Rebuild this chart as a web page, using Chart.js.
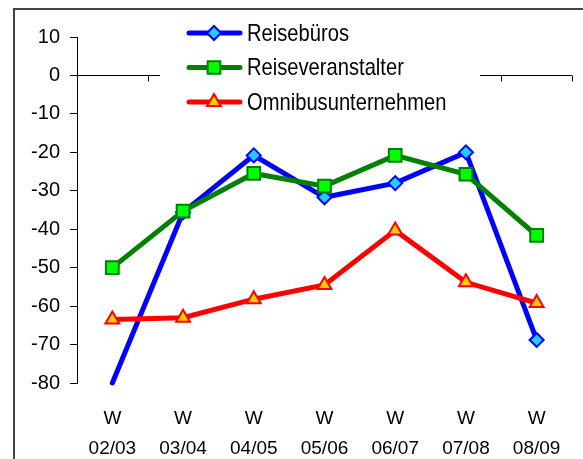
<!DOCTYPE html>
<html>
<head>
<meta charset="utf-8">
<script src="https://cdn.jsdelivr.net/npm/chart.js@4"></script>
<style>
  html, body { margin: 0; padding: 0; background: #fff; }
  #wrap { width: 583px; height: 459px; }
</style>
</head>
<body>
<div id="wrap"><canvas id="chart" width="583" height="459"></canvas></div>
<script>
const LABELS = [['W', '02/03'], ['W', '03/04'], ['W', '04/05'], ['W', '05/06'], ['W', '06/07'], ['W', '07/08'], ['W', '08/09']];
const REISEBUEROS = [-80, -35.6, -20.8, -31.7, -28, -20, -68.8];
const VERANSTALTER = [-50, -35.3, -25.5, -28.8, -20.8, -25.7, -41.6];
const OMNIBUS = [-63.5, -63, -58.2, -54.5, -40.3, -53.8, -59.2];
const Y_MIN = -80;
const Y_MAX = 10;

const TICK_FONT = "'Liberation Sans', Arial, sans-serif";
const LEGEND_FONT = "'Liberation Sans', Arial, sans-serif";

// frame around the whole picture (cut off at right/bottom like the original)
const framePlugin = {
    id: 'frame',
    beforeDraw(chart) {
        const ctx = chart.ctx;
        ctx.save();
        ctx.strokeStyle = '#444';
        ctx.lineWidth = 2;
        ctx.strokeRect(14, 9, 700, 700);
        ctx.restore();
    }
};

// horizontal axis line at zero with tick marks between categories
const zeroLinePlugin = {
    id: 'zeroLine',
    beforeDatasetsDraw(chart) {
        const ctx = chart.ctx;
        const x = chart.scales.x;
        const y = chart.scales.y;
        const area = chart.chartArea;
        const y0 = Math.round(y.getPixelForValue(0)) + 0.5;
        ctx.save();
        ctx.strokeStyle = '#000';
        ctx.lineWidth = 1;
        ctx.beginPath();
        ctx.moveTo(area.left, y0);
        ctx.lineTo(area.right, y0);
        for (let i = 0; i < LABELS.length; i++) {
            let bx = i < LABELS.length - 1
                ? (x.getPixelForValue(i) + x.getPixelForValue(i + 1)) / 2
                : area.right;
            bx = Math.round(bx) + 0.5;
            ctx.moveTo(bx, y0);
            ctx.lineTo(bx, y0 + 6);
        }
        ctx.stroke();
        ctx.restore();
    }
};

// legend box drawn over the plot like the original (narrow, tall text)
const legendPlugin = {
    id: 'boxLegend',
    afterDraw(chart) {
        const ctx = chart.ctx;
        ctx.save();
        ctx.fillStyle = '#fff';
        ctx.fillRect(160, 14, 320, 108);
        chart.data.datasets.forEach((ds, i) => {
            const cy = 33 + i * 34.5;
            ctx.strokeStyle = ds.borderColor;
            ctx.lineWidth = 5;
            ctx.lineCap = 'round';
            ctx.beginPath();
            ctx.moveTo(189, cy);
            ctx.lineTo(240, cy);
            ctx.stroke();
            ctx.fillStyle = ds.pointBackgroundColor;
            ctx.strokeStyle = ds.pointBorderColor;
            ctx.lineWidth = ds.pointBorderWidth;
            Chart.helpers.drawPoint(ctx, {
                pointStyle: ds.pointStyle,
                radius: ds.legendRadius,
                borderWidth: ds.pointBorderWidth,
                rotation: 0
            }, 214, cy);

            ctx.save();
            ctx.translate(247, cy + 1);
            ctx.scale(0.84, 1);
            ctx.fillStyle = '#000';
            ctx.font = '24px ' + LEGEND_FONT;
            ctx.textBaseline = 'middle';
            ctx.textAlign = 'left';
            ctx.fillText(ds.label, 0, 0);
            ctx.restore();
        });
        ctx.restore();
    }
};

// values sitting on the bottom of the axis show no marker (clipped like the original)
function radiusFor(r) {
    return c => (c.raw <= Y_MIN ? 0 : r);
}

const ctx = document.getElementById('chart').getContext('2d');
new Chart(ctx, {
    type: 'line',
    data: {
        labels: LABELS,
        datasets: [{
            label: 'Reisebüros',
            data: REISEBUEROS,
            order: 3,
            borderColor: '#0000ff',
            borderWidth: 5,
            borderCapStyle: 'round',
            pointStyle: 'rectRot',
            pointRadius: radiusFor(7),
            legendRadius: 7,
            pointBackgroundColor: '#22ccff',
            pointBorderColor: '#0000ff',
            pointBorderWidth: 2
        }, {
            label: 'Reiseveranstalter',
            data: VERANSTALTER,
            order: 2,
            borderColor: '#008000',
            borderWidth: 5,
            pointStyle: 'rect',
            pointRadius: radiusFor(9),
            legendRadius: 9,
            pointBackgroundColor: '#00ff00',
            pointBorderColor: '#008000',
            pointBorderWidth: 2
        }, {
            label: 'Omnibusunternehmen',
            data: OMNIBUS,
            order: 1,
            borderColor: '#ff0000',
            borderWidth: 5,
            pointStyle: 'triangle',
            pointRadius: radiusFor(8),
            legendRadius: 8,
            pointBackgroundColor: '#ffcc00',
            pointBorderColor: '#ff0000',
            pointBorderWidth: 2
        }]
    },
    options: {
        responsive: false,
        animation: false,
        clip: false,
        layout: { padding: { left: 0, top: 37, right: 11, bottom: 0 } },
        plugins: {
            legend: { display: false },
            tooltip: { enabled: false }
        },
        elements: { line: { tension: 0 } },
        scales: {
            x: {
                offset: true,
                grid: { display: false },
                border: { display: false },
                ticks: {
                    color: '#000',
                    padding: 13,
                    maxRotation: 0,
                    autoSkip: false,
                    font: { family: TICK_FONT, size: 19, lineHeight: 1.58 }
                },
                afterFit(scale) { scale.height = 76; }
            },
            y: {
                min: Y_MIN,
                max: Y_MAX,
                grid: { drawOnChartArea: false, tickLength: 7, color: '#000' },
                border: { display: true, color: '#000', width: 1 },
                ticks: {
                    stepSize: 10,
                    color: '#000',
                    padding: 10,
                    font: { family: TICK_FONT, size: 20 }
                },
                afterFit(scale) { scale.width = 77; }
            }
        }
    },
    plugins: [framePlugin, zeroLinePlugin, legendPlugin]
});
</script>
</body>
</html>
